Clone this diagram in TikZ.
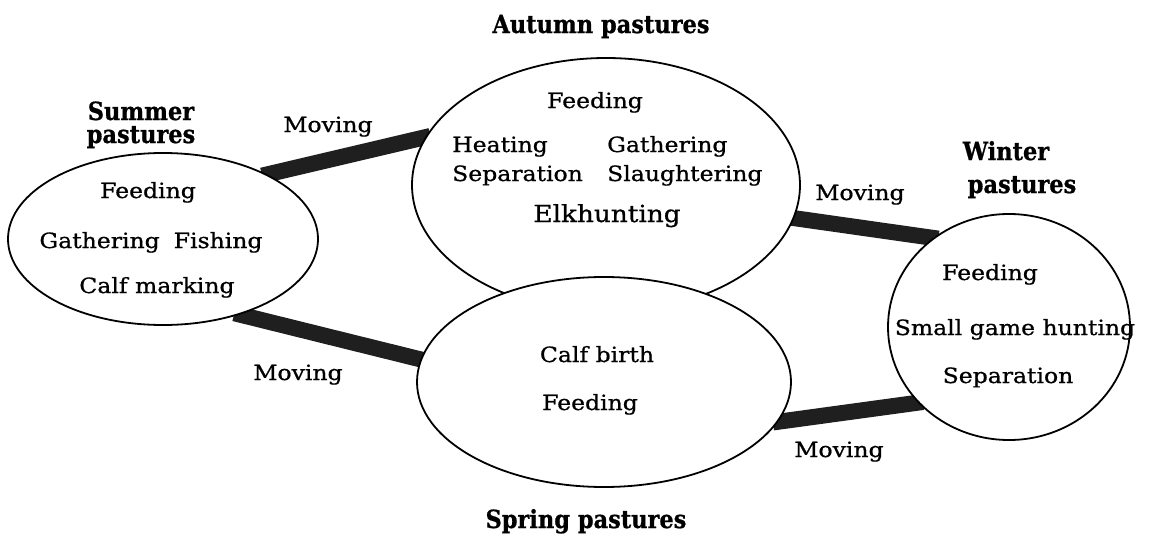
\documentclass[tikz,border=0pt]{standalone}
\usepackage{fontspec}
\setmainfont{DejaVu Serif}[FakeStretch=1.12, FakeBold=0.8]
\newfontfamily\titlefont{DejaVu Serif Bold}[FakeStretch=0.9, FakeBold=0.8]
\usetikzlibrary{shapes.geometric}
\pgfdeclarelayer{bg}
\pgfsetlayers{bg,main}
\begin{document}
\begin{tikzpicture}[x=1pt,y=-1pt,
  pasture/.style={ellipse, draw, line width=1.8pt, fill=white, inner sep=0pt, outer sep=0pt},
  band/.style={line width=16pt, draw=black!88, line cap=butt, shorten <=-4pt, shorten >=-4pt},
  lbl/.style={font=\fontsize{21}{24}\selectfont, anchor=base, inner sep=0pt},
  big/.style={font=\fontsize{23.5}{26}\selectfont, anchor=base, inner sep=0pt},
  ttl/.style={font=\titlefont\fontsize{25}{28}\selectfont, anchor=base, inner sep=0pt}]
\useasboundingbox (0,0) rectangle (1149,538);
% pastures
\node[pasture, minimum width=388pt, minimum height=254pt] (autumn) at (606,185) {};
\node[pasture, minimum width=374pt, minimum height=210pt] (spring) at (604,382) {};
\node[pasture, minimum width=310pt, minimum height=172pt] (summer) at (163,239) {};
\node[pasture, minimum width=242pt, minimum height=226pt] (winter) at (1009,327) {};
% moving bands
\begin{pgfonlayer}{bg}
\draw[band] (summer.32.5) -- (autumn.165.5);
\draw[band] (summer.-45.4) -- (spring.173.6);
\draw[band] (autumn.-10.3) -- (winter.130);
\draw[band] (spring.-13.5) -- (winter.-140.1);
\end{pgfonlayer}
% titles
\node[ttl] (ta) at (601,33) {Autumn pastures};
\node[ttl] (ts1) at (141,120) {Summer};
\node[ttl] (ts2) at (141,143) {pastures};
\node[ttl] (tw1) at (1006,160) {Winter};
\node[ttl] (tw2) at (1022,193) {pastures};
\node[ttl] (tsp) at (586,528) {Spring pastures};
% moving labels
\node[lbl] (m1) at (328,132) {Moving};
\node[lbl] (m2) at (298,380) {Moving};
\node[lbl] (m3) at (860,200) {Moving};
\node[lbl] (m4) at (839,457) {Moving};
% summer activities
\node[lbl] (s1) at (148,198) {Feeding};
\node[lbl] (s2) at (151,248) {Gathering\hspace{14pt}Fishing};
\node[lbl] (s3) at (157,293) {Calf marking};
% autumn activities
\node[lbl] (a1) at (595,108) {Feeding};
\node[lbl, anchor=base west] (a2) at (452,152) {Heating};
\node[lbl, anchor=base west] (a3) at (452,181) {Separation};
\node[lbl, anchor=base west] (a4) at (607,152) {Gathering};
\node[lbl, anchor=base west] (a5) at (607,181) {Slaughtering};
\node[big] (a6) at (607,222) {Elkhunting};
% spring activities
\node[lbl] (p1) at (597,362) {Calf birth};
\node[lbl] (p2) at (590,410) {Feeding};
% winter activities
\node[lbl] (w1) at (990,280) {Feeding};
\node[lbl] (w2) at (1015,335) {Small game hunting};
\node[lbl] (w3) at (1008,383) {Separation};
\end{tikzpicture}
\end{document}
